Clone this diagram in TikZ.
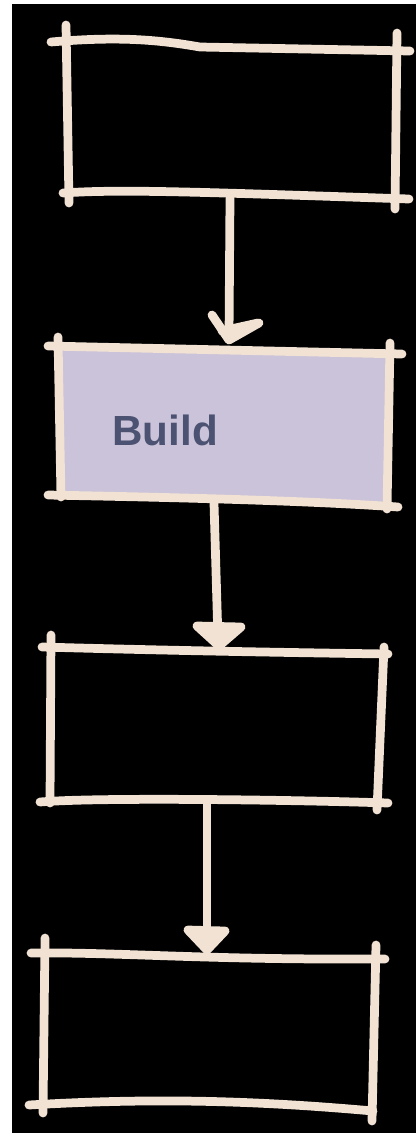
\documentclass[tikz,border=0pt]{standalone}
\usepackage{fontspec}
\setmainfont{Liberation Sans}
\begin{document}
\begin{tikzpicture}[x=0.02cm,y=-0.02cm,
  chalk/.style={draw=chalkc,line width=0.175cm,line cap=round,line join=round},
  headfill/.style={chalk,fill=chalkc}]
\definecolor{chalkc}{RGB}{241,226,212}
\definecolor{lav}{RGB}{203,195,217}
\definecolor{ink}{RGB}{75,82,114}
\useasboundingbox (0,0) rectangle (416,1133);
\fill[white] (0,0) rectangle (416,1133);
\fill[black] (12,4) rectangle (416,1133);
% box 1
\draw[chalk] (51,42) .. controls (120,36) and (160,40) .. (200,47) -- (410,51);
\draw[chalk] (66,25) -- (69,203);
\draw[chalk] (397,33) -- (395,209);
\draw[chalk] (63,193) .. controls (120,189) and (200,192) .. (409,199);
\coordinate (b1s) at (230,198);
% box 2
\fill[lav] (58,347) -- (388,354) -- (388,505) -- (58,497) -- cycle;
\draw[chalk] (48,346) -- (402,354);
\draw[chalk] (58,337) -- (61,497);
\draw[chalk] (390,343) -- (387,509);
\draw[chalk] (48,495) .. controls (150,497) and (300,500) .. (398,507);
\coordinate (b2n) at (230,349);
\coordinate (b2s) at (214,503);
\node[font=\fontsize{24}{26}\selectfont\bfseries,text=ink,inner sep=0pt,anchor=base west] (build) at (112,445) {Build};
% box 3
\draw[chalk] (42,647) .. controls (150,650) and (250,652) .. (388,654);
\draw[chalk] (51,635) -- (50,803);
\draw[chalk] (384,647) -- (377,810);
\draw[chalk] (40,802) .. controls (100,797) and (300,800) .. (388,803);
\coordinate (b3n) at (218,651);
\coordinate (b3s) at (207,803);
% box 4
\draw[chalk] (31,953) .. controls (120,952) and (200,960) .. (385,959);
\draw[chalk] (45,938) -- (43,1113);
\draw[chalk] (376,945) -- (372,1121);
\draw[chalk] (29,1105) .. controls (150,1098) and (250,1100) .. (373,1111);
\coordinate (b4n) at (207,955);
% arrows
\draw[chalk] (b1s) -- (229,338);
\draw[chalk] (212,315) -- (229,340) -- (259,323);
\draw[chalk] (222,331) -- (258,323);
\draw[chalk] (b2s) -- (218,640);
\draw[headfill] (197,626) -- (241,627) -- (219,646) -- cycle;
\draw[chalk] (b3s) -- (207,945);
\draw[headfill] (188,930) -- (225,931) -- (207,950) -- cycle;
\end{tikzpicture}
\end{document}
